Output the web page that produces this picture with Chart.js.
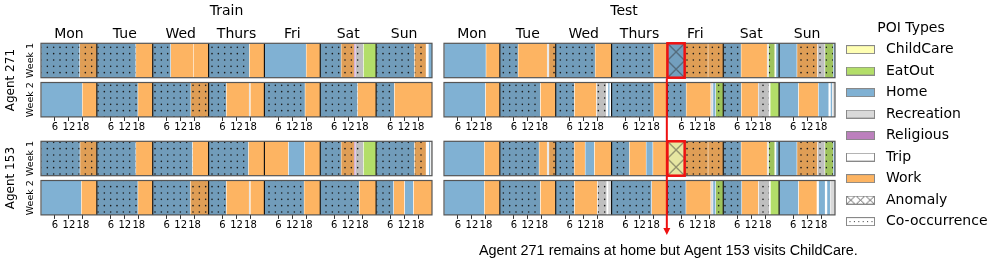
<!DOCTYPE html>
<html>
<head>
<meta charset="utf-8">
<script src="https://cdn.jsdelivr.net/npm/chart.js@4.4.1/dist/chart.umd.min.js"></script>
<style>
  html, body { margin: 0; padding: 0; background: #fff; overflow: hidden; }
  #wrap { position: relative; width: 996px; height: 261px; }
  #wrap canvas { position: absolute; left: 0; top: 0; }
</style>
</head>
<body>
<div id="wrap">
  <canvas id="train" width="996" height="261"></canvas>
  <canvas id="test" width="996" height="261"></canvas>
  <canvas id="legend" width="996" height="261"></canvas>
</div>
<script>
// ---- data ----
const DAYS = ['Mon', 'Tue', 'Wed', 'Thurs', 'Fri', 'Sat', 'Sun'];
const HOURS = [6, 12, 18];
const AGENTS = ['Agent 271', 'Agent 153'];
const WEEKS = ['Week 1', 'Week 2', 'Week 1', 'Week 2'];
const POI_TYPES = ['ChildCare', 'EatOut', 'Home', 'Recreation', 'Religious', 'Trip', 'Work'];
const MARKS = ['Anomaly', 'Co-occurrence'];
const NOTE = 'Agent 271 remains at home but Agent 153 visits ChildCare.';

// [start hour, end hour, POI type, flag]  flag: 0 plain, 1 co-occurrence, 2 anomaly
const train271w1 = [
  [0, 16.6, 'Home', 1], [16.6, 24, 'Work', 1],
  [24, 40.7, 'Home', 1], [40.7, 48, 'Work', 0],
  [48, 55.7, 'Home', 1], [55.7, 65.4, 'Work', 0], [65.4, 72, 'Work', 0],
  [72, 89.5, 'Home', 1], [89.5, 96, 'Work', 0],
  [96, 113.9, 'Home', 0], [113.9, 120, 'Work', 0],
  [120, 128.9, 'Home', 1], [128.9, 134.5, 'Work', 1], [134.5, 135.2, 'Religious', 0], [135.2, 138.5, 'Recreation', 1], [138.5, 144, 'EatOut', 0],
  [144, 160.4, 'Home', 1], [160.4, 165.4, 'Work', 1], [165.4, 166.4, 'Trip', 0], [166.4, 168, 'Home', 0]
];
const train271w2 = [
  [0, 17.7, 'Home', 0], [17.7, 24, 'Work', 0],
  [24, 41.6, 'Home', 1], [41.6, 48, 'Work', 0],
  [48, 64.3, 'Home', 1], [64.3, 72, 'Work', 1],
  [72, 79.6, 'Home', 1], [79.6, 89.4, 'Work', 0], [89.4, 89.9, 'Recreation', 0], [89.9, 96, 'Work', 0],
  [96, 113.4, 'Home', 1], [113.4, 120, 'Work', 0],
  [120, 136.0, 'Home', 1], [136.0, 144, 'Work', 0],
  [144, 151.8, 'Home', 1], [151.8, 168, 'Work', 0]
];
const train153w1 = [
  [0, 16.7, 'Home', 1], [16.7, 24, 'Work', 1],
  [24, 40.7, 'Home', 1], [40.7, 48, 'Work', 0],
  [48, 65.1, 'Home', 1], [65.1, 72, 'Work', 0],
  [72, 89.1, 'Home', 1], [89.1, 96, 'Work', 0],
  [96, 106.3, 'Work', 0], [106.3, 113.2, 'Home', 0], [113.2, 120, 'Work', 0],
  [120, 128.9, 'Home', 1], [128.9, 134.5, 'Work', 1], [134.5, 135.2, 'Religious', 0], [135.2, 138.5, 'Recreation', 1], [138.5, 144, 'EatOut', 0],
  [144, 160.4, 'Home', 1], [160.4, 165.4, 'Work', 1], [165.4, 166.6, 'Trip', 0], [166.6, 167.3, 'Home', 0], [167.3, 168, 'Recreation', 0]
];
const train153w2 = [
  [0, 17.3, 'Home', 0], [17.3, 24, 'Work', 0],
  [24, 41.6, 'Home', 1], [41.6, 48, 'Work', 0],
  [48, 64.1, 'Home', 1], [64.1, 72, 'Work', 1],
  [72, 79.6, 'Home', 1], [79.6, 89.4, 'Work', 0], [89.4, 89.9, 'Recreation', 0], [89.9, 96, 'Work', 0],
  [96, 113.0, 'Home', 1], [113.0, 120, 'Work', 0],
  [120, 136.7, 'Home', 1], [136.7, 144, 'Work', 0],
  [144, 151.5, 'Home', 1], [151.5, 156.2, 'Work', 0], [156.2, 160.0, 'Home', 0], [160.0, 168, 'Work', 0]
];
const test271w1 = [
  [0, 18.0, 'Home', 0], [18.0, 24, 'Work', 0],
  [24, 31.8, 'Home', 1], [31.8, 44.3, 'Work', 0], [44.3, 45.0, 'Recreation', 0], [45.0, 48, 'Work', 1],
  [48, 64.9, 'Home', 1], [64.9, 72, 'Work', 0],
  [72, 90.1, 'Home', 1], [90.1, 96, 'Work', 0],
  [96, 103.4, 'Home', 2], [103.4, 113.4, 'Work', 1], [113.4, 120, 'Work', 1],
  [120, 127.6, 'Home', 1], [127.6, 138.8, 'Work', 0], [138.8, 139.4, 'Recreation', 0], [139.4, 142.1, 'EatOut', 1], [142.1, 142.6, 'Trip', 0], [142.6, 144, 'Home', 0],
  [144, 151.6, 'Home', 0], [151.6, 160.5, 'Work', 1], [160.5, 163.6, 'Recreation', 1], [163.6, 167.2, 'EatOut', 1], [167.2, 168, 'Home', 0]
];
const test271w2 = [
  [0, 17.8, 'Home', 0], [17.8, 24, 'Work', 0],
  [24, 41.4, 'Home', 1], [41.4, 48, 'Work', 0],
  [48, 56.0, 'Home', 1], [56.0, 65.5, 'Work', 0], [65.5, 69.7, 'Recreation', 1], [69.7, 70.4, 'Trip', 0], [70.4, 71.2, 'Home', 0], [71.2, 72, 'Trip', 0],
  [72, 90.1, 'Home', 1], [90.1, 96, 'Work', 0],
  [96, 104.0, 'Home', 1], [104.0, 114.6, 'Work', 0], [114.6, 115.5, 'Recreation', 0], [115.5, 116.7, 'Home', 0], [116.7, 120, 'EatOut', 1],
  [120, 127.7, 'Home', 1], [127.7, 135.0, 'Work', 0], [135.0, 139.6, 'Recreation', 1], [139.6, 140.1, 'Trip', 0], [140.1, 144, 'EatOut', 0],
  [144, 152.3, 'Home', 0], [152.3, 160.8, 'Work', 0], [160.8, 165.3, 'Home', 0], [165.3, 166.0, 'Trip', 0], [166.0, 166.8, 'Home', 0], [166.8, 168, 'Recreation', 0]
];
const test153w1 = [
  [0, 17.3, 'Home', 0], [17.3, 24, 'Work', 0],
  [24, 40.8, 'Home', 1], [40.8, 44.3, 'Work', 0], [44.3, 45.0, 'Recreation', 0], [45.0, 48, 'Work', 1],
  [48, 55.9, 'Home', 1], [55.9, 60.6, 'Work', 0], [60.6, 64.6, 'Home', 0], [64.6, 72, 'Work', 0],
  [72, 79.6, 'Home', 1], [79.6, 86.8, 'Work', 0], [86.8, 89.7, 'Home', 0], [89.7, 96, 'Work', 0],
  [96, 103.4, 'ChildCare', 2], [103.4, 113.4, 'Work', 1], [113.4, 120, 'Work', 1],
  [120, 127.6, 'Home', 1], [127.6, 138.8, 'Work', 0], [138.8, 139.4, 'Recreation', 0], [139.4, 142.1, 'EatOut', 1], [142.1, 142.6, 'Trip', 0], [142.6, 144, 'Home', 0],
  [144, 151.6, 'Home', 0], [151.6, 160.5, 'Work', 1], [160.5, 163.6, 'Recreation', 1], [163.6, 167.2, 'EatOut', 1], [167.2, 168, 'Home', 0]
];
const test153w2 = [
  [0, 17.3, 'Home', 0], [17.3, 24, 'Work', 0],
  [24, 41.4, 'Home', 1], [41.4, 48, 'Work', 0],
  [48, 56.0, 'Home', 1], [56.0, 65.9, 'Work', 0], [65.9, 69.9, 'Recreation', 1], [69.9, 70.4, 'Trip', 0], [70.4, 72, 'Recreation', 0],
  [72, 89.2, 'Home', 1], [89.2, 96, 'Work', 0],
  [96, 103.9, 'Home', 1], [103.9, 114.6, 'Work', 0], [114.6, 115.5, 'Recreation', 0], [115.5, 116.7, 'Home', 0], [116.7, 120, 'EatOut', 1],
  [120, 127.9, 'Home', 1], [127.9, 135.1, 'Work', 0], [135.1, 139.8, 'Recreation', 1], [139.8, 140.2, 'Trip', 0], [140.2, 144, 'EatOut', 0],
  [144, 152.3, 'Home', 0], [152.3, 160.2, 'Work', 0], [160.2, 160.9, 'Trip', 0], [160.9, 163.7, 'Home', 0], [163.7, 164.5, 'Trip', 0], [164.5, 165.9, 'Home', 0], [165.9, 168, 'Recreation', 0]
];

// ---- styles / layout ----
const COLORS = {
  ChildCare: '#ffffb3', EatOut: '#b3de69', Home: '#80b1d3', Recreation: '#d9d9d9',
  Religious: '#bc80bd', Trip: '#ffffff', Work: '#fdb462'
};
const FONT = "'DejaVu Sans', sans-serif";
const W = 996, H = 261;
const ROW_Y = [0, 2, 5, 7];      // row positions on the y scale
const UNIT = 19.6;               // px per y unit
const BAR_H = 34.4;
const HALF = BAR_H / 2 / UNIT;
const PLOT_TOP = 43.3;
const PLOT_BOTTOM = PLOT_TOP + (ROW_Y[3] - ROW_Y[0] + 2 * HALF) * UNIT;
const HATCH = 17;

const hourTicks = [];
DAYS.forEach((d, i) => HOURS.forEach(h => hourTicks.push(i * 24 + h)));

function shade(hex, f) {
  const n = parseInt(hex.slice(1), 16);
  return 'rgb(' + Math.round(((n >> 16) & 255) * f) + ',' + Math.round(((n >> 8) & 255) * f) + ',' + Math.round((n & 255) * f) + ')';
}

function dotPattern(color) {
  const c = document.createElement('canvas');
  c.width = 19; c.height = 19;
  const g = c.getContext('2d');
  g.fillStyle = shade(color, 0.88);
  g.fillRect(0, 0, 19, 19);
  g.fillStyle = '#1a1a1a';
  for (let i = 0; i < 3; i++) {
    for (let j = 0; j < 3; j++) {
      g.beginPath();
      g.arc(3 + i * 19 / 3, 3 + j * 19 / 3, 0.8, 0, Math.PI * 2);
      g.fill();
    }
  }
  return g.createPattern(c, 'repeat');
}

function crossPattern(color) {
  const c = document.createElement('canvas');
  c.width = HATCH; c.height = HATCH;
  const g = c.getContext('2d');
  g.fillStyle = shade(color, 0.9);
  g.fillRect(0, 0, HATCH, HATCH);
  g.strokeStyle = '#333';
  g.lineWidth = 0.9;
  g.beginPath();
  g.moveTo(0, 0); g.lineTo(HATCH, HATCH);
  g.moveTo(HATCH, 0); g.lineTo(0, HATCH);
  g.stroke();
  return g.createPattern(c, 'repeat');
}

const patterns = {};
function fillFor(raw) {
  if (!raw) return '#ccc';
  const base = COLORS[raw.poi];
  if (!raw.flag) return base;
  const key = raw.poi + raw.flag;
  if (!patterns[key]) patterns[key] = raw.flag === 1 ? dotPattern(base) : crossPattern(base);
  return patterns[key];
}

function buildData(rows) {
  const out = [];
  rows.forEach((segs, r) => {
    segs.forEach(s => out.push({x: [s[0], s[1]], y: ROW_Y[r], poi: s[2], flag: s[3]}));
  });
  return out;
}

function hourAxis(extra) {
  return Object.assign({
    type: 'linear', axis: 'x', min: 0, max: 168, offset: false,
    afterBuildTicks: s => { s.ticks = hourTicks.map(v => ({value: v})); },
    ticks: {
      autoSkip: false, maxRotation: 0, minRotation: 0, padding: 1, color: '#000',
      font: {family: FONT, size: 10},
      callback: v => String(v % 24)
    },
    grid: {drawOnChartArea: false, tickLength: 4, tickColor: '#333', tickWidth: 1},
    border: {display: false}
  }, extra);
}

function line(ctx, x1, y1, x2, y2) {
  ctx.beginPath();
  ctx.moveTo(x1, y1);
  ctx.lineTo(x2, y2);
  ctx.stroke();
}

function anomalyBoxes(chart) {
  const meta = chart.getDatasetMeta(0);
  const data = chart.data.datasets[0].data;
  const boxes = [];
  meta.data.forEach((el, i) => {
    if (data[i].flag !== 2) return;
    const p = el.getProps(['x', 'y', 'base', 'height'], true);
    boxes.push({el, left: Math.min(p.x, p.base), top: p.y - p.height / 2, w: Math.abs(p.x - p.base), h: p.height});
  });
  return boxes;
}

const decor = {
  id: 'decor',
  beforeDatasetsDraw(chart) {
    anomalyBoxes(chart).forEach(b => {
      const pat = b.el.options.backgroundColor;
      if (pat && pat.setTransform) {
        pat.setTransform(new DOMMatrix([b.w / HATCH, 0, 0, b.h / 2 / HATCH, b.left, b.top]));
      }
    });
  },
  afterDatasetsDraw(chart, args, opts) {
    const ctx = chart.ctx;
    const xs = chart.scales.x, ys = chart.scales.y;
    ctx.save();
    ROW_Y.forEach(r => {
      const top = ys.getPixelForValue(r) - BAR_H / 2;
      ctx.strokeStyle = '#111';
      ctx.lineWidth = 1.2;
      for (let d = 1; d < DAYS.length; d++) {
        const px = xs.getPixelForValue(d * 24);
        line(ctx, px, top, px, top + BAR_H);
      }
      ctx.strokeStyle = '#555';
      ctx.lineWidth = 1.2;
      ctx.strokeRect(xs.left, top, xs.right - xs.left, BAR_H);
    });
    if (opts.note) {
      const boxes = anomalyBoxes(chart);
      ctx.strokeStyle = '#ee1111';
      ctx.lineWidth = 2.5;
      boxes.forEach(b => ctx.strokeRect(b.left, b.top, b.w, b.h));
      if (boxes.length) {
        const ax = boxes[0].left - 0.6;
        const tip = ys.bottom + 20;
        ctx.lineWidth = 2;
        line(ctx, ax, boxes[0].top + boxes[0].h + 1, ax, tip - 6);
        ctx.fillStyle = '#ee1111';
        ctx.beginPath();
        ctx.moveTo(ax - 3.5, tip - 7);
        ctx.lineTo(ax + 3.5, tip - 7);
        ctx.lineTo(ax, tip);
        ctx.closePath();
        ctx.fill();
        // annotation text fitted to its width in the figure
        const fam = "'Liberation Sans', Arial, sans-serif";
        ctx.font = '13px ' + fam;
        const size = 13 * 379 / ctx.measureText(opts.note).width;
        ctx.font = size.toFixed(2) + 'px ' + fam;
        ctx.fillStyle = '#000';
        ctx.textAlign = 'center';
        ctx.textBaseline = 'alphabetic';
        ctx.fillText(opts.note, ax + 1.5, ys.bottom + 40.5);
      }
    }
    ctx.restore();
  },
  afterDraw(chart, args, opts) {
    const ctx = chart.ctx;
    const xs = chart.scales.x, ys = chart.scales.y;
    ctx.save();
    ctx.fillStyle = '#000';
    ctx.textAlign = 'center';
    ctx.textBaseline = 'middle';
    ctx.font = '14px ' + FONT;
    ctx.fillText(opts.title, (xs.left + xs.right) / 2 + opts.titleShift, 11.5);
    if (opts.yLabels) {
      const rot = (text, x, y, size) => {
        ctx.save();
        ctx.translate(x, y);
        ctx.rotate(-Math.PI / 2);
        ctx.font = size + 'px ' + FONT;
        ctx.fillText(text, 0, 0);
        ctx.restore();
      };
      ROW_Y.forEach((r, i) => rot(WEEKS[i], 30.5, ys.getPixelForValue(r), 9.5));
      AGENTS.forEach((a, i) => {
        const mid = (ROW_Y[2 * i] + ROW_Y[2 * i + 1]) / 2;
        rot(a, 11, ys.getPixelForValue(mid), 12);
      });
    }
    ctx.restore();
  }
};

function panelChart(id, rows, opts) {
  return new Chart(document.getElementById(id), {
    type: 'bar',
    data: {
      datasets: [{
        data: buildData(rows),
        xAxisID: 'x', yAxisID: 'y',
        backgroundColor: c => fillFor(c.raw),
        borderColor: 'rgba(255,255,255,0.8)',
        borderWidth: {left: 0.7, top: 0, right: 0, bottom: 0},
        borderSkipped: false,
        barThickness: BAR_H
      }]
    },
    options: {
      indexAxis: 'y',
      responsive: false,
      animation: false,
      events: [],
      layout: {padding: {left: opts.left, right: W - opts.right, top: 0, bottom: 0}},
      scales: {
        y: {
          type: 'linear', display: false, reverse: true, offset: false,
          grid: {offset: false},
          min: ROW_Y[0] - HALF, max: ROW_Y[3] + HALF
        },
        x: hourAxis({position: 'bottom', afterFit: s => { s.height = H - PLOT_BOTTOM; }}),
        x2: hourAxis({position: {y: ROW_Y[1] + HALF}}),
        xDay: {
          type: 'linear', axis: 'x', position: 'top', min: 0, max: 168, offset: false,
          afterBuildTicks: s => { s.ticks = DAYS.map((d, i) => ({value: i * 24 + 12})); },
          afterFit: s => { s.height = PLOT_TOP; },
          ticks: {
            autoSkip: false, maxRotation: 0, minRotation: 0, padding: 0.5, color: '#000',
            font: {family: FONT, size: 14},
            callback: v => DAYS[Math.round((v - 12) / 24)]
          },
          grid: {display: false, drawTicks: false},
          border: {display: false}
        }
      },
      plugins: {
        legend: {display: false},
        tooltip: {enabled: false},
        decor: opts
      }
    },
    plugins: [decor]
  });
}

panelChart('train', [train271w1, train271w2, train153w1, train153w2],
  {left: 41, right: 432, title: 'Train', titleShift: -10, yLabels: true});
panelChart('test', [test271w1, test271w2, test153w1, test153w2],
  {left: 444, right: 835, title: 'Test', titleShift: -15.5, note: NOTE});

// ---- legend ----
function swatch(kind, color) {
  const c = document.createElement('canvas');
  c.width = 29; c.height = 9;
  const g = c.getContext('2d');
  g.fillStyle = color || '#fff';
  g.fillRect(0, 0, 29, 9);
  if (kind === 'Anomaly') {
    g.strokeStyle = '#444';
    g.lineWidth = 0.8;
    for (let k = 0; k < 3; k++) {
      const x0 = k * 29 / 3, x1 = (k + 1) * 29 / 3;
      g.beginPath();
      g.moveTo(x0, 0); g.lineTo(x1, 9);
      g.moveTo(x1, 0); g.lineTo(x0, 9);
      g.stroke();
    }
  } else if (kind === 'Co-occurrence') {
    g.fillStyle = '#333';
    for (let k = 0; k < 6; k++) g.fillRect(3.5 + k * 4.4, 4, 1, 1);
  }
  g.strokeStyle = '#888';
  g.lineWidth = 1;
  g.strokeRect(0.5, 0.5, 28, 8);
  return c;
}

const legendNames = POI_TYPES.concat(MARKS);
const swatches = legendNames.map(n => swatch(n, COLORS[n]));

new Chart(document.getElementById('legend'), {
  type: 'bar',
  data: {datasets: []},
  options: {
    responsive: false,
    animation: false,
    events: [],
    layout: {padding: {left: 834.5, top: 21.3, right: 0, bottom: 0}},
    scales: {x: {display: false}, y: {display: false}},
    plugins: {
      tooltip: {enabled: false},
      legend: {
        position: 'top',
        align: 'start',
        maxHeight: 261,
        title: {display: true, text: 'POI Types', color: '#000', font: {family: FONT, size: 14}, padding: {top: 0, bottom: -3}},
        labels: {
          usePointStyle: true,
          pointStyleWidth: 37,
          padding: 7.5,
          color: '#000',
          font: {family: FONT, size: 14},
          generateLabels: () => legendNames.map((n, i) => ({
            text: n, pointStyle: swatches[i], fillStyle: '#fff', strokeStyle: '#888',
            lineWidth: 1, hidden: false, datasetIndex: i
          }))
        }
      }
    }
  }
});
</script>
</body>
</html>
